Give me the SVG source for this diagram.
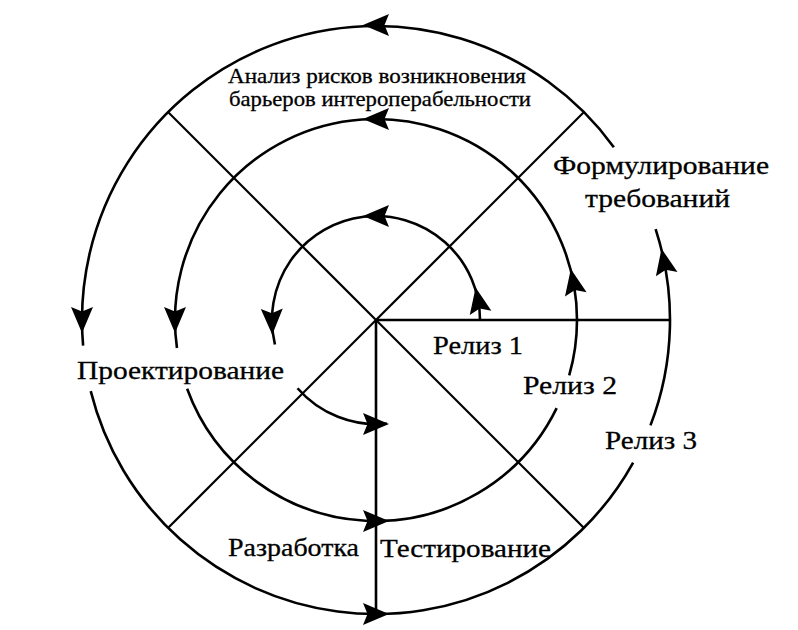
<svg xmlns="http://www.w3.org/2000/svg" xmlns:xlink="http://www.w3.org/1999/xlink" width="798" height="630" viewBox="0 0 798 630">
<style>
.bg{fill:#fff}
.arc{fill:none;stroke:#000;stroke-width:2.6}
.ln{fill:none;stroke:#000;stroke-width:2.6}
.dg{fill:none;stroke:#000;stroke-width:2.2}
.ah{fill:#000}
text{font-family:"Liberation Serif","Times New Roman",serif;fill:#000;stroke:#000;stroke-width:0.3}
.s{font-size:21px}
.m{font-size:26px}
</style>
<defs>
<path id="ah" class="ah" d="M13,0 L-13,-11 L-8.5,0 L-13,11 Z"/>
</defs>
<rect class="bg" x="0" y="0" width="798" height="630"/>
<g id="connectors">
<g id="axes">
<line class="ln" x1="376" y1="320" x2="670" y2="320"/>
<line class="ln" x1="376" y1="320" x2="376" y2="614"/>
<line class="dg" x1="376" y1="320" x2="168" y2="112"/>
<line class="dg" x1="376" y1="320" x2="584" y2="112"/>
<line class="dg" x1="376" y1="320" x2="168" y2="528"/>
<line class="dg" x1="376" y1="320" x2="584" y2="528"/>
</g>
<g id="release1">
<path class="arc" d="M480,320 A104,104 0 1 0 274.92,344.45"/>
<path class="arc" d="M297.51,388.23 A104,104 0 0 0 386.87,423.43"/>
<use xlink:href="#ah" transform="translate(478.09,300.16) rotate(-101)"/>
<use xlink:href="#ah" transform="translate(376,216) rotate(180)"/>
<use xlink:href="#ah" transform="translate(272.02,321.81) rotate(89)"/>
<use xlink:href="#ah" transform="translate(376,424) rotate(0)"/>
</g>
<g id="release2">
<path class="arc" d="M577,320 A201,201 0 1 0 176.96,347.97"/>
<path class="arc" d="M187.12,388.75 A201,201 0 0 0 556.66,408.11"/>
<path class="arc" d="M569.21,375.40 A201,201 0 0 0 577,320"/>
<use xlink:href="#ah" transform="translate(573.31,281.65) rotate(-101)"/>
<use xlink:href="#ah" transform="translate(376,119) rotate(180)"/>
<use xlink:href="#ah" transform="translate(175,320) rotate(90)"/>
<use xlink:href="#ah" transform="translate(376,521) rotate(0)"/>
</g>
<g id="release3">
<path class="arc" d="M613.85,147.19 A294,294 0 0 0 83.12,345.62"/>
<path class="arc" d="M90.73,391.12 A294,294 0 0 0 633.14,462.53"/>
<path class="arc" d="M650.47,425.36 A294,294 0 0 0 655.61,229.15"/>
<use xlink:href="#ah" transform="translate(664.10,261.39) rotate(-101.5)"/>
<use xlink:href="#ah" transform="translate(376,25) rotate(180)"/>
<use xlink:href="#ah" transform="translate(82,320) rotate(90)"/>
<use xlink:href="#ah" transform="translate(376,614) rotate(0)"/>
</g>
</g>
<g id="risk-analysis">
<text class="s" x="228" y="83" textLength="298" lengthAdjust="spacingAndGlyphs">Анализ рисков возникновения</text>
<text class="s" x="229" y="106" textLength="302" lengthAdjust="spacingAndGlyphs">барьеров интероперабельности</text>
</g>
<g id="requirements">
<text class="m" x="553" y="174" textLength="216" lengthAdjust="spacingAndGlyphs">Формулирование</text>
<text class="m" x="585" y="207" textLength="145" lengthAdjust="spacingAndGlyphs">требований</text>
</g>
<g id="design">
<text class="m" x="77" y="379" textLength="207" lengthAdjust="spacingAndGlyphs">Проектирование</text>
</g>
<g id="development">
<text class="m" x="228" y="556" textLength="131" lengthAdjust="spacingAndGlyphs">Разработка</text>
</g>
<g id="testing">
<text class="m" x="380" y="557" textLength="171" lengthAdjust="spacingAndGlyphs">Тестирование</text>
</g>
<g id="release1-label">
<text class="m" x="433" y="354" textLength="90" lengthAdjust="spacingAndGlyphs">Релиз 1</text>
</g>
<g id="release2-label">
<text class="m" x="523" y="394" textLength="94" lengthAdjust="spacingAndGlyphs">Релиз 2</text>
</g>
<g id="release3-label">
<text class="m" x="605" y="449" textLength="92" lengthAdjust="spacingAndGlyphs">Релиз 3</text>
</g>
</svg>
